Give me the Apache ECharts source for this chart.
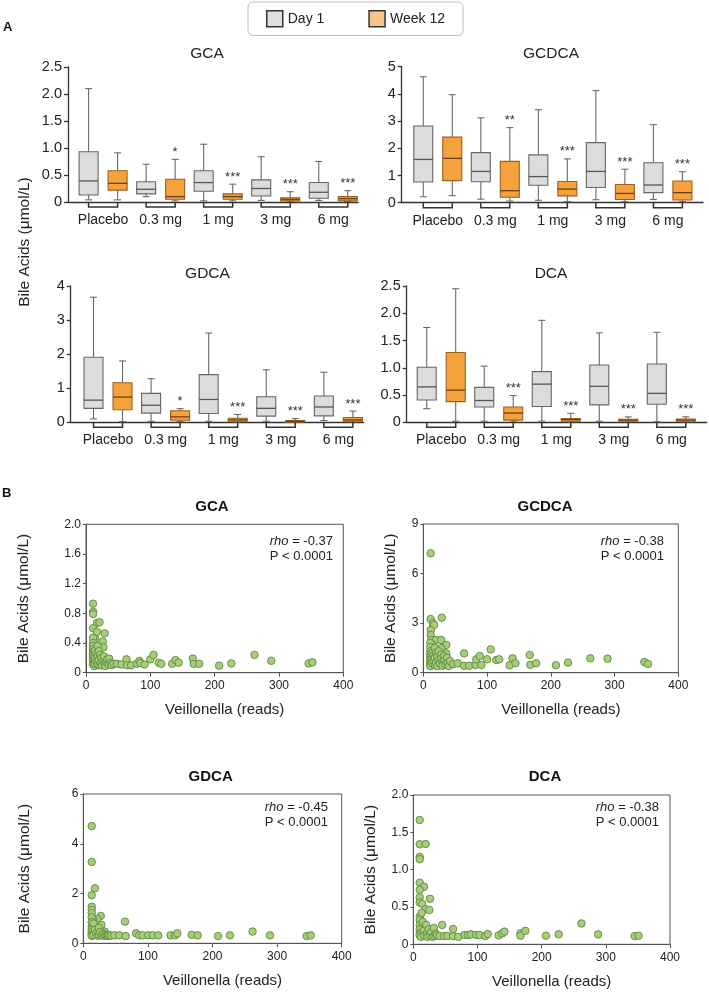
<!DOCTYPE html>
<html><head><meta charset="utf-8">
<script src="https://cdn.jsdelivr.net/npm/echarts@6/dist/echarts.min.js"></script>
<style>html,body{margin:0;padding:0;background:#fff}#c{width:709px;height:992px}</style>
</head><body><div id="c"></div>
<script>
// ---------- DATA ----------
const doseGroups = ['Placebo', '0.3 mg', '1 mg', '3 mg', '6 mg'];
// box values: [min, Q1, median, Q3, max]
const gcaDay1 = [[0.04,0.13,0.39,0.93,2.10],[0.10,0.15,0.235,0.375,0.70],[0.02,0.20,0.36,0.58,1.07],[0.03,0.11,0.25,0.41,0.84],[0.03,0.07,0.18,0.36,0.75]];
const gcaWeek12 = [[0.04,0.22,0.345,0.58,0.91],[0.02,0.05,0.10,0.42,0.79],[0.02,0.05,0.10,0.15,0.33],[0.01,0.02,0.05,0.08,0.19],[0.01,0.02,0.06,0.10,0.21]];
const gcaStars = ['', '*', '***', '***', '***'];

const gcdcaDay1 = [[0.22,0.76,1.59,2.82,4.63],[0.13,0.77,1.15,1.84,3.12],[0.09,0.64,0.96,1.76,3.42],[0.11,0.56,1.15,2.21,4.12],[0.12,0.37,0.65,1.47,2.87]];
const gcdcaWeek12 = [[0.26,0.81,1.63,2.41,3.97],[0.06,0.20,0.44,1.52,2.76],[0.04,0.25,0.50,0.78,1.61],[0.04,0.12,0.34,0.67,1.23],[0.04,0.10,0.37,0.80,1.14]];
const gcdcaStars = ['', '**', '***', '***', '***'];

const gdcaDay1 = [[0.10,0.41,0.65,1.91,3.67],[0.03,0.27,0.50,0.85,1.28],[0.03,0.26,0.67,1.40,2.62],[0.03,0.18,0.41,0.75,1.54],[0.05,0.19,0.45,0.77,1.47]];
const gdcaWeek12 = [[0.02,0.37,0.74,1.16,1.80],[0.02,0.06,0.16,0.34,0.40],[0.01,0.03,0.07,0.12,0.23],[0.01,0.02,0.03,0.05,0.11],[0.01,0.03,0.07,0.14,0.33]];
const gdcaStars = ['', '*', '***', '***', '***'];

const dcaDay1 = [[0.25,0.41,0.65,1.01,1.74],[0.02,0.28,0.40,0.64,1.03],[0.02,0.29,0.70,0.93,1.87],[0.02,0.32,0.66,1.05,1.64],[0.01,0.33,0.53,1.07,1.65]];
const dcaWeek12 = [[0.02,0.38,0.59,1.28,2.45],[0.02,0.04,0.17,0.28,0.49],[0.01,0.02,0.05,0.07,0.165],[0.01,0.02,0.04,0.055,0.10],[0.01,0.02,0.04,0.06,0.10]];
const dcaStars = ['', '***', '***', '***', '***'];

// scatter: [Veillonella reads, bile acid umol/L]
const gcaScatter = [[11,0.93],[11,0.82],[11,0.79],[17,0.67],[21,0.68],[11,0.60],[29,0.53],[17,0.55],[14,0.46],[26,0.42],[27,0.34],[11,0.47],[11,0.40],[11,0.36],[11,0.32],[11,0.28],[11,0.25],[11,0.22],[11,0.19],[11,0.16],[11,0.13],[11,0.11],[13,0.09],[14,0.30],[14,0.20],[14,0.12],[16,0.26],[16,0.15],[18,0.36],[18,0.22],[18,0.11],[20,0.29],[20,0.17],[21,0.10],[22,0.24],[23,0.13],[24,0.20],[25,0.10],[27,0.16],[28,0.22],[29,0.12],[30,0.09],[32,0.14],[33,0.18],[35,0.11],[36,0.19],[38,0.13],[40,0.10],[43,0.12],[48,0.12],[55,0.11],[63,0.18],[64,0.10],[70,0.10],[79,0.12],[83,0.16],[84.5,0.13],[91,0.11],[100,0.18],[105,0.24],[113,0.135],[117,0.12],[134,0.12],[139,0.17],[144,0.135],[166,0.19],[167.5,0.12],[176,0.12],[207,0.095],[226,0.125],[262,0.24],[288,0.16],[346,0.125],[352,0.14]];
const gcdcaScatter = [[11.6,7.23],[11.6,3.25],[29,3.33],[15,2.99],[17,2.89],[11.6,2.58],[11.6,2.28],[12.5,1.98],[20,1.98],[28,1.98],[15,1.68],[36,1.68],[17,1.37],[28,1.48],[36,1.17],[11,1.80],[11,1.55],[11,1.30],[11,1.10],[11,0.95],[11,0.80],[11,0.65],[11,0.50],[11,0.40],[14,1.20],[14,0.85],[14,0.55],[16,1.05],[16,0.70],[18,1.50],[18,0.90],[18,0.45],[20,1.20],[20,0.60],[22,1.00],[22,0.40],[24,1.30],[24,0.75],[26,0.55],[28,1.10],[28,0.85],[30,0.65],[30,0.42],[32,1.00],[33,0.75],[35,0.50],[37,0.90],[38,0.60],[40,0.40],[42,0.70],[46.6,0.51],[54,0.57],[64,1.17],[64,0.42],[72,0.42],[82,0.47],[83,0.81],[88.5,1.01],[91,0.47],[100,0.81],[105.7,1.41],[114.5,0.77],[119,0.81],[135.5,0.45],[140,0.87],[144.5,0.57],[167,1.07],[168,0.48],[177,0.57],[208,0.45],[227,0.61],[262,0.87],[289,0.85],[346.7,0.65],[352.5,0.53]];
const gdcaScatter = [[13,4.71],[13,3.27],[18,2.21],[13,1.93],[13,1.47],[13,1.34],[13,1.21],[27,1.10],[21.7,0.98],[15.5,0.94],[64.5,0.87],[28,0.74],[20,0.67],[13,0.67],[15,0.43],[33,0.47],[13,1.05],[13,0.85],[13,0.55],[13,0.45],[13,0.35],[13,0.30],[16,0.80],[16,0.33],[18,0.55],[20,0.40],[22,0.30],[24,0.62],[24,0.35],[26,0.45],[28,0.32],[30,0.38],[32,0.30],[34,0.35],[36,0.31],[38,0.30],[40,0.32],[43,0.31],[48,0.32],[55.7,0.32],[65.6,0.29],[81.6,0.40],[86.7,0.32],[91.9,0.32],[100.6,0.32],[107.4,0.32],[116,0.32],[135,0.32],[142,0.32],[145.5,0.40],[167.8,0.34],[177,0.32],[208.5,0.29],[227,0.32],[262,0.47],[289,0.32],[345.8,0.29],[352,0.32]];
const dcaScatter = [[10,1.665],[10,1.34],[19.3,1.344],[10,1.17],[10,1.14],[10,0.825],[16.7,0.77],[10,0.73],[10,0.63],[26,0.61],[10,0.56],[14,0.54],[19,0.47],[25,0.46],[10,0.37],[10,0.325],[45,0.26],[10,0.26],[14,0.235],[19,0.23],[62,0.205],[10,0.20],[10,0.15],[10,0.12],[12,0.10],[13,0.42],[15,0.30],[16,0.18],[17,0.12],[20,0.26],[21,0.14],[22,0.10],[24,0.20],[26,0.12],[28,0.16],[30,0.10],[32,0.22],[33,0.11],[35,0.14],[37,0.12],[41,0.11],[48,0.11],[53,0.11],[62,0.11],[70,0.10],[80,0.125],[85,0.125],[90,0.133],[98,0.125],[103,0.125],[112,0.11],[116,0.138],[133,0.12],[138.6,0.147],[142,0.17],[167,0.147],[167,0.115],[174.5,0.18],[206.7,0.115],[226.5,0.133],[262,0.28],[288,0.133],[345,0.11],[351,0.115]];

const rhoValues = ['-0.37', '-0.38', '-0.45', '-0.38'];
const pText = 'P < 0.0001';

// ---------- CHART ----------
const FONT = '"Liberation Sans", Arial, sans-serif';
const TXT = '#222';
const AX = '#333';
const GRAY = '#dcdcdc', ORANGE = '#f5a23c';
const BOX_OFF = 0.252;

const grids = [], xAxes = [], yAxes = [], series = [], graphics = [];

function fmtY(step) { return v => v === 0 ? '0' : (step < 1 ? v.toFixed(1) : String(v)); }

function boxRenderer(off, fill, stroke, medColor, stars) {
  return function (params, api) {
    const g = api.value(0) + off;
    const pMax = api.coord([g, api.value(5)]);
    const x = pMax[0], yMax = pMax[1];
    const yQ3 = api.coord([g, api.value(4)])[1];
    const yMed = api.coord([g, api.value(3)])[1];
    const yQ1 = api.coord([g, api.value(2)])[1];
    const yMin = api.coord([g, api.value(1)])[1];
    const hw = 9.5, cw = 3.5;
    const ls = { stroke: '#6a6a6a', lineWidth: 1.1 };
    const ch = [
      { type: 'line', shape: { x1: x, y1: yQ3, x2: x, y2: yMax }, style: ls },
      { type: 'line', shape: { x1: x - cw, y1: yMax, x2: x + cw, y2: yMax }, style: ls },
      { type: 'line', shape: { x1: x, y1: yQ1, x2: x, y2: yMin }, style: ls },
      { type: 'line', shape: { x1: x - cw, y1: yMin, x2: x + cw, y2: yMin }, style: ls },
      { type: 'rect', shape: { x: x - hw, y: yQ3, width: 2 * hw, height: Math.max(yQ1 - yQ3, 1.5) }, style: { fill: fill, stroke: stroke, lineWidth: 1.1 } },
      { type: 'line', shape: { x1: x - hw, y1: yMed, x2: x + hw, y2: yMed }, style: { stroke: medColor, lineWidth: 1.3 } }
    ];
    const s = stars ? stars[params.dataIndex] : '';
    if (s) ch.push({ type: 'text', x: x, y: yMax - 7, style: { text: s, fill: '#333', fontSize: 13, fontFamily: FONT, align: 'center', verticalAlign: 'middle' } });
    return { type: 'group', children: ch };
  };
}
function bracketRenderer(params, api) {
  const g = api.value(0);
  const a = api.coord([g - BOX_OFF, 0]), b = api.coord([g + BOX_OFF, 0]);
  return { type: 'polyline', shape: { points: [[a[0], a[1]], [a[0], a[1] + 5], [b[0], b[1] + 5], [b[0], b[1]]] }, style: { stroke: '#333', lineWidth: 1.5, fill: null } };
}

const boxPanels = [
  { title: 'GCA', d1: gcaDay1, w12: gcaWeek12, stars: gcaStars, yMax: 2.5, step: 0.5, box: [68, 67, 290, 135], xr: [-0.61, 4.43], tc: [207, 54] },
  { title: 'GCDCA', d1: gcdcaDay1, w12: gcdcaWeek12, stars: gcdcaStars, yMax: 5, step: 1, box: [401.7, 66.7, 301.3, 136], xr: [-0.627, 4.61], tc: [551, 54] },
  { title: 'GDCA', d1: gdcaDay1, w12: gdcaWeek12, stars: gdcaStars, yMax: 4, step: 1, box: [70.7, 286, 293, 136.3], xr: [-0.648, 4.44], tc: [207.5, 274] },
  { title: 'DCA', d1: dcaDay1, w12: dcaWeek12, stars: dcaStars, yMax: 2.5, step: 0.5, box: [406.7, 286, 300, 136.3], xr: [-0.60, 4.615], tc: [551, 274] }
];

boxPanels.forEach((p, k) => {
  const gi = grids.length;
  grids.push({ left: p.box[0], top: p.box[1], width: p.box[2], height: p.box[3], containLabel: false, outerBoundsMode: 'none' });
  xAxes.push({
    type: 'value', gridIndex: gi, min: p.xr[0], max: p.xr[1],
    axisLine: { show: true, onZero: false, lineStyle: { color: AX, width: 1.3 } },
    axisTick: { show: false }, splitLine: { show: false },
    axisLabel: { customValues: [0, 1, 2, 3, 4], formatter: v => doseGroups[Math.round(v)], fontSize: 14, fontFamily: FONT, color: TXT, margin: 11 }
  });
  yAxes.push({
    type: 'value', gridIndex: gi, min: 0, max: p.yMax, interval: p.step,
    axisLine: { show: true, onZero: false, lineStyle: { color: AX, width: 1.3 } },
    axisTick: { show: true, length: 4, lineStyle: { color: AX, width: 1.3 } },
    splitLine: { show: false },
    axisLabel: { formatter: fmtY(p.step), fontSize: 14.5, fontFamily: FONT, color: TXT, margin: 6 }
  });
  const mk = arr => arr.map((d, i) => [i].concat(d));
  series.push({ type: 'custom', name: 'Day 1', xAxisIndex: gi, yAxisIndex: gi, data: mk(p.d1), encode: { x: 0, y: [1, 2, 3, 4, 5] }, renderItem: boxRenderer(-BOX_OFF, GRAY, '#666', '#555', null), z: 3 });
  series.push({ type: 'custom', name: 'Week 12', xAxisIndex: gi, yAxisIndex: gi, data: mk(p.w12), encode: { x: 0, y: [1, 2, 3, 4, 5] }, renderItem: boxRenderer(BOX_OFF, ORANGE, '#9a6020', '#6b4010', p.stars), z: 3 });
  series.push({ type: 'custom', name: 'brackets', xAxisIndex: gi, yAxisIndex: gi, data: doseGroups.map((_, i) => [i, 0]), encode: { x: 0, y: 1 }, renderItem: bracketRenderer, z: 4, silent: true });
  graphics.push({ type: 'text', x: p.tc[0], y: p.tc[1], style: { text: p.title, fontSize: 15.5, fontFamily: FONT, fill: TXT, align: 'center', verticalAlign: 'middle' } });
});

const scatterPanels = [
  { title: 'GCA', data: gcaScatter, yMax: 2.0, step: 0.4, box: [86, 524.3, 257.3, 148.4], nameGap: 54, tc: [212, 507], rhoR: 333, rhoY: 541 },
  { title: 'GCDCA', data: gcdcaScatter, yMax: 9, step: 3, box: [423.3, 524, 255, 148.7], nameGap: 25, tc: [545, 507], rhoR: 664, rhoY: 541 },
  { title: 'GDCA', data: gdcaScatter, yMax: 6, step: 2, box: [83.3, 794, 258.4, 149.3], nameGap: 51, tc: [210.7, 777], rhoR: 328, rhoY: 807.7 },
  { title: 'DCA', data: dcaScatter, yMax: 2.0, step: 0.5, box: [413.3, 795, 256.7, 149.3], nameGap: 35, tc: [545, 777], rhoR: 659, rhoY: 807.7 }
];

scatterPanels.forEach((p, k) => {
  const gi = grids.length;
  grids.push({ left: p.box[0], top: p.box[1], width: p.box[2], height: p.box[3], containLabel: false, outerBoundsMode: 'none', show: true, borderColor: '#555', borderWidth: 1, backgroundColor: 'transparent' });
  xAxes.push({
    type: 'value', gridIndex: gi, min: 0, max: 400, interval: 100,
    name: 'Veillonella (reads)', nameLocation: 'middle', nameGap: 30,
    nameTextStyle: { fontSize: 15, fontFamily: FONT, color: TXT, padding: [0, 0, 0, 20] },
    axisLine: { show: true, onZero: false, lineStyle: { color: '#555', width: 1 } },
    axisTick: { show: true, length: 4, lineStyle: { color: '#555' } }, splitLine: { show: false },
    axisLabel: { fontSize: 12, fontFamily: FONT, color: TXT, margin: 7 }
  });
  yAxes.push({
    type: 'value', gridIndex: gi, min: 0, max: p.yMax, interval: p.step,
    name: 'Bile Acids (μmol/L)', nameLocation: 'middle', nameGap: p.nameGap,
    nameTextStyle: { fontSize: 15.5, fontFamily: FONT, color: TXT },
    axisLine: { show: true, onZero: false, lineStyle: { color: '#555', width: 1 } },
    axisTick: { show: true, length: 3, lineStyle: { color: '#555' } }, splitLine: { show: false },
    axisLabel: { formatter: fmtY(p.step), fontSize: 12, fontFamily: FONT, color: TXT, margin: 5 }
  });
  series.push({
    type: 'scatter', name: p.title + ' scatter', xAxisIndex: gi, yAxisIndex: gi, data: p.data,
    symbol: 'circle', symbolSize: 7.5,
    itemStyle: { color: '#a8cc7c', borderColor: '#5b8a3a', borderWidth: 0.9, opacity: 1 }
  });
  graphics.push({ type: 'text', x: p.tc[0], y: p.tc[1], style: { text: p.title, fontSize: 15, fontWeight: 'bold', fontFamily: FONT, fill: '#111', align: 'center', verticalAlign: 'middle' } });
  graphics.push({ type: 'text', x: p.rhoR, y: p.rhoY, style: {
    text: '{i|rho}{n| = ' + rhoValues[k] + '}', align: 'right', verticalAlign: 'middle', fontSize: 13, fontFamily: FONT, fill: TXT,
    rich: { i: { fontStyle: 'italic', fontSize: 13, fontFamily: FONT, fill: TXT }, n: { fontSize: 13, fontFamily: FONT, fill: TXT } } } });
  graphics.push({ type: 'text', x: p.rhoR, y: p.rhoY + 15, style: { text: pText, align: 'right', verticalAlign: 'middle', fontSize: 13, fontFamily: FONT, fill: TXT } });
});

graphics.push({ type: 'text', x: 3, y: 27, style: { text: 'A', fontSize: 13, fontWeight: 'bold', fontFamily: FONT, fill: '#111', verticalAlign: 'middle' } });
graphics.push({ type: 'text', x: 2, y: 493, style: { text: 'B', fontSize: 13, fontWeight: 'bold', fontFamily: FONT, fill: '#111', verticalAlign: 'middle' } });
graphics.push({ type: 'text', x: 25, y: 242, rotation: Math.PI / 2, style: { text: 'Bile Acids (μmol/L)', fontSize: 15.5, fontFamily: FONT, fill: TXT, align: 'center', verticalAlign: 'middle' } });

const chart = echarts.init(document.getElementById('c'), null, { renderer: 'canvas', width: 709, height: 992 });
chart.setOption({
  animation: false,
  backgroundColor: '#fff',
  textStyle: { fontFamily: FONT },
  legend: {
    left: 248, top: 2, padding: [8, 18, 8, 18], itemGap: 44, itemWidth: 16, itemHeight: 16,
    borderColor: '#bdbdbd', borderWidth: 1, borderRadius: 5, selectedMode: false,
    textStyle: { fontSize: 14, fontFamily: FONT, color: TXT },
    data: [
      { name: 'Day 1', icon: 'rect', itemStyle: { color: '#dedede', borderColor: '#333', borderWidth: 1.5 } },
      { name: 'Week 12', icon: 'rect', itemStyle: { color: '#f8c48e', borderColor: '#333', borderWidth: 1.5 } }
    ]
  },
  grid: grids, xAxis: xAxes, yAxis: yAxes, series: series, graphic: graphics
});
</script></body></html>
